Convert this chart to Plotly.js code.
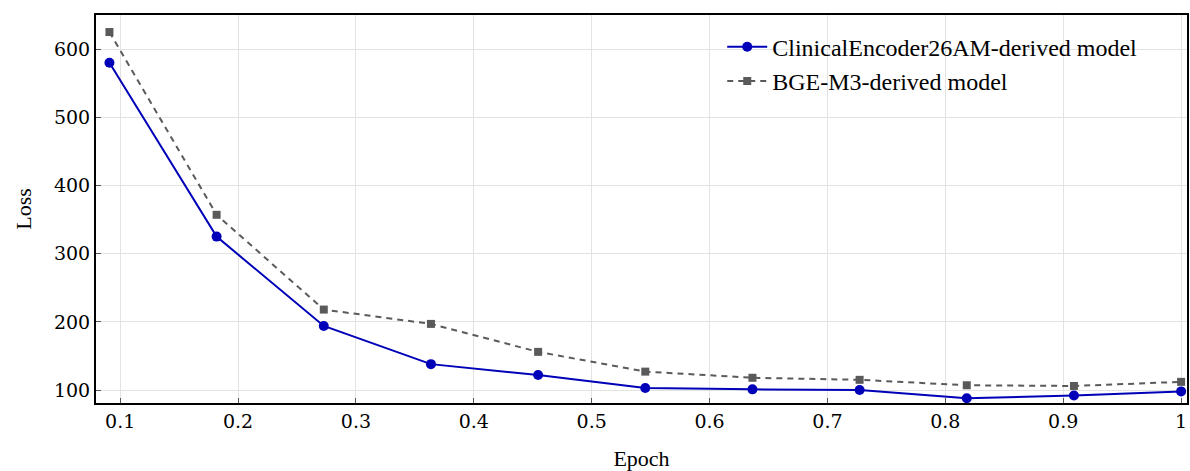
<!DOCTYPE html>
<html>
<head>
<meta charset="utf-8">
<script src="https://cdn.plot.ly/plotly-3.0.1.min.js"></script>
<style>html,body{margin:0;padding:0;background:#fff;}#chart{width:1190px;height:471px;}</style>
</head>
<body>
<div id="chart"></div>
<script>
const epochs = [1/11, 2/11, 3/11, 4/11, 5/11, 6/11, 7/11, 8/11, 9/11, 10/11, 1.0];
const clinicalLoss = [580, 325, 194, 138, 122, 103, 101, 100, 88, 92, 98];
const bgeLoss = [625, 357, 218, 197, 156, 127, 118, 115, 107, 106, 112];
const seriesNames = ["ClinicalEncoder26AM-derived model", "BGE-M3-derived model"];
const xTicks = [0.1, 0.2, 0.3, 0.4, 0.5, 0.6, 0.7, 0.8, 0.9, 1.0];
const xTickText = ["0.1", "0.2", "0.3", "0.4", "0.5", "0.6", "0.7", "0.8", "0.9", "1"];
const yTicks = [100, 200, 300, 400, 500, 600];

const serif = "Liberation Serif";
const tickSerif = "DejaVu Serif";
const traces = [
  {x: epochs, y: clinicalLoss, name: seriesNames[0], mode: "lines+markers",
   line: {color: "#0000b8", width: 2}, marker: {symbol: "circle", size: 10, color: "#0000b8"}},
  {x: epochs, y: bgeLoss, name: seriesNames[1], mode: "lines+markers",
   line: {color: "#5a5a5a", width: 2, dash: "6px,5px"}, marker: {symbol: "square", size: 8, color: "#5a5a5a"}}
];
const layout = {
  width: 1190, height: 471,
  margin: {l: 96, r: 3, t: 15, b: 68},
  paper_bgcolor: "#fff", plot_bgcolor: "#fff",
  font: {family: serif, size: 22, color: "#000"},
  showlegend: true,
  legend: {x: 0.574, y: 0.975, xanchor: "left", yanchor: "top", bgcolor: "rgba(255,255,255,0)",
           font: {family: serif, size: 24}, tracegroupgap: 0, itemwidth: 40},
  xaxis: {range: [0.0795, 1.005], tickvals: xTicks, ticktext: xTickText,
          showgrid: true, gridcolor: "#e3e3e3", gridwidth: 1, zeroline: false,
          showline: true, linecolor: "#000", linewidth: 2, mirror: true,
          ticks: "inside", ticklen: 5, tickcolor: "#555", tickfont: {size: 19, family: tickSerif},
          title: {text: "Epoch", font: {size: 22, family: serif}, standoff: 20}},
  yaxis: {range: [81, 650], tickvals: yTicks,
          showgrid: true, gridcolor: "#e3e3e3", gridwidth: 1, zeroline: false,
          showline: true, linecolor: "#000", linewidth: 2, mirror: true,
          ticks: "inside", ticklen: 5, tickcolor: "#555", tickfont: {size: 19, family: tickSerif},
          title: {text: "Loss", font: {size: 22, family: serif}, standoff: 16}}
};
Plotly.newPlot("chart", traces, layout, {displayModeBar: false, staticPlot: true});
</script>
</body>
</html>
